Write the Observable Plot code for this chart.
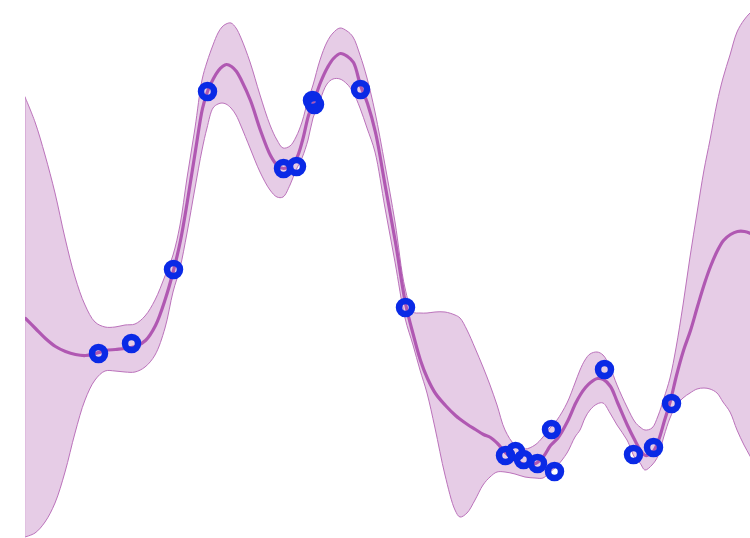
<!DOCTYPE html>
<html>
<head>
<meta charset="utf-8">
<script src="https://cdn.jsdelivr.net/npm/d3@7"></script>
<script src="https://cdn.jsdelivr.net/npm/@observablehq/plot@0.6"></script>
<style>
  html, body { margin: 0; padding: 0; background: #ffffff; }
  #chart svg { display: block; }
</style>
</head>
<body>
<div id="chart"></div>
<script>
// Prediction grid (x) with confidence band and posterior mean
const xs = [
  0,10,20,30,40,50,60,70,80,90,
  100,110,120,130,140,148,155,162,170,177,
  182,188,193,197,201,206,211,216,225,235,
  245,252,258,265,271,277,283,288,295,302,
  308,315,322,328,335,342,350,360,370,380,
  388,395,402,410,420,430,435,442,450,458,
  465,472,480,490,500,510,518,525,532,542,
  550,555,560,565,572,578,585,592,602,610,
  615,620,627,633,639,645,651,658,665,672,
  679,685,692,698,705,712,719,725,731
];
const upper = [
  441,416,383,345,300,261,233,216,211,211,
  213,214,222,238,262,283,313,360,410,458,
  476,493,505,511,514,515,510,500,476,443,
  413,398,390,392,401,416,438,453,478,496,
  505,510,507,501,483,460,426,373,316,250,
  226,225,225,226,226,223,220,208,190,171,
  153,133,108,93,89,93,101,110,118,135,
  155,168,178,184,186,183,171,153,131,116,
  111,108,110,122,140,160,190,233,281,325,
  368,398,435,460,483,506,518,525,530
];
const mean = [
  220,210,200,192,187,184,183,185,188,189,
  190,192,198,213,240,268,298,338,388,430,
  447,460,468,472,474,472,467,458,438,408,
  383,373,370,373,380,398,423,436,456,471,
  480,485,482,476,453,435,406,351,296,235,
  203,178,160,145,133,123,119,114,109,104,
  101,95,86,78,74,75,82,93,100,117,
  135,144,151,156,160,159,152,136,113,97,
  88,83,86,98,118,138,163,188,208,232,
  255,272,288,298,304,307,307,305,302
];
const lower = [
  1,5,16,35,66,105,138,158,167,167,
  166,166,171,183,210,246,270,305,350,388,
  410,430,434,435,434,430,423,412,390,366,
  348,341,341,353,368,380,398,420,438,454,
  459,459,454,446,430,410,386,330,276,220,
  193,168,145,110,63,28,21,25,38,53,
  61,66,66,64,61,60,60,66,72,85,
  101,108,120,128,134,135,125,113,98,80,
  75,68,73,82,102,120,132,140,145,149,
  150,149,145,136,126,108,93,82,70
];

// Observations
const obsX = [73,106,148,182,258,271,287,289,335,380,480,490,498,512,526,529,579,608,628,646];
const obsY = [185,195,269,447,370,372,438,434,449,231,83,87,79,75,109,67,169,84,91,135];

const grid = xs.map((x, i) => ({x, upper: upper[i], mean: mean[i], lower: lower[i]}));
const obs = obsX.map((x, i) => ({x, y: obsY[i]}));

const chart = Plot.plot({
  width: 750,
  height: 538,
  marginTop: 0,
  marginBottom: 0,
  marginLeft: 25,
  marginRight: 0,
  x: {domain: [0, 725], axis: null},
  y: {domain: [0, 538], axis: null},
  marks: [
    Plot.areaY(grid, {
      x: "x", y1: "lower", y2: "upper",
      fill: "#e6cce6", stroke: "#bb72bb", strokeWidth: 1,
      curve: "catmull-rom", clip: true
    }),
    Plot.line(grid, {
      x: "x", y: "mean",
      stroke: "#b058b2", strokeWidth: 3.2,
      curve: "catmull-rom", clip: true
    }),
    Plot.dot(obs, {
      x: "x", y: "y", r: 6.5,
      fill: "none", stroke: "#0a2ae6", strokeWidth: 6.5
    })
  ]
});
document.getElementById("chart").appendChild(chart);
</script>
</body>
</html>
